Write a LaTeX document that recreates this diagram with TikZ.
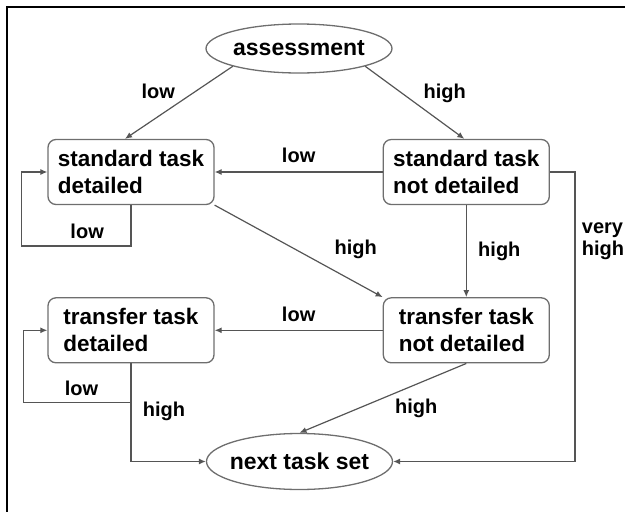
\documentclass[tikz,border=0pt]{standalone}
\usepackage{fontspec}
\setmainfont{Liberation Sans}
\usepackage{tikz}
\usetikzlibrary{arrows.meta,positioning,shapes.geometric}
\definecolor{linegray}{RGB}{85,85,85}
\definecolor{boxgray}{RGB}{110,110,110}

\begin{document}
\begin{tikzpicture}[
  x=1pt,y=-1pt,
  box/.style={draw=boxgray,line width=1.3pt,rounded corners=8pt,align=left,
    minimum width=166pt,minimum height=65pt,inner sep=0pt,
    font=\bfseries\fontsize{22.5}{27}\selectfont},
  oval/.style={ellipse,draw=boxgray,line width=1.3pt,minimum width=186pt,
    inner sep=-4pt,font=\bfseries\fontsize{23}{27}\selectfont},
  lbl/.style={font=\bfseries\fontsize{20}{22}\selectfont,align=left},
  arrow/.style={-{Latex[length=7pt,width=6pt]},draw=linegray,line width=1.2pt}
]
\useasboundingbox (0,0) rectangle (625,512);
\draw[line width=1.6pt] (7,512) -- (7,7) -- (625,7);

\node[oval,minimum height=49pt] (assess) at (299,48.5) {assessment};
\node[box] (sdet) at (131,172) {standard task\\detailed};
\node[box,right=168pt of sdet] (sndet) {standard task\\not detailed};
\node[box,below=92pt of sdet] (tdet) {transfer task\\detailed};
\node[box,below=92pt of sndet] (tndet) {transfer task\\not detailed};
\node[oval,minimum height=56pt] (next) at (299.5,461.5) {next task set};

\draw[arrow] (assess.south west) -- node[lbl,above left]{low} ([xshift=-6pt]sdet.north);
\draw[arrow] (assess.south east) -- node[lbl,pos=0.55,above right]{high} ([xshift=-2pt]sndet.north);
\draw[arrow] (sndet) -- node[lbl,above=5pt]{low} (sdet);
\draw[arrow] (sdet.south) |- ([xshift=-26pt,yshift=-74pt]sdet.west) node[lbl,pos=0.7,above=3pt]{low} |- (sdet.west);
\draw[arrow] (sdet.south east) -- node[lbl,pos=0.84,above=20pt]{high} (tndet.north west);
\draw[arrow] (sndet) -- node[lbl,right=8pt]{high} (tndet);
\draw[arrow] (sndet.east) -- ++(25,0) |- node[lbl,pos=0.12,right=3pt]{very\\high} (next.east);
\draw[arrow] (tndet) -- node[lbl,above=5pt]{low} (tdet);
\draw[arrow] (tdet.south) |- ([xshift=-24pt,yshift=-72pt]tdet.west) node[lbl,pos=0.73,above=3pt]{low} |- (tdet.west);
\draw[arrow] (tdet.south) |- node[lbl,pos=0.245,right=8pt]{high} (next.west);
\draw[arrow] (tndet.south) -- node[lbl,pos=0.45,below right]{high} (next.north);
\end{tikzpicture}
\end{document}
